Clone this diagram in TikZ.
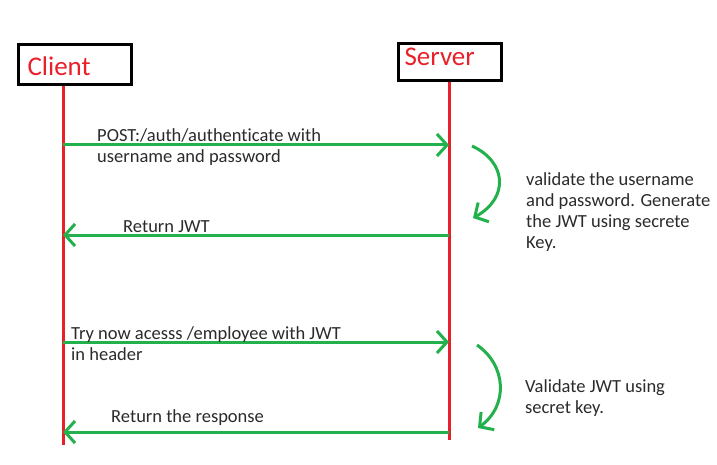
\documentclass[tikz,border=0pt]{standalone}
\usepackage{fontspec}
\setmainfont{Carlito}[Ligatures=NoCommon]
\usepackage{xcolor}
\usetikzlibrary{arrows.meta}
\definecolor{LifeRed}{HTML}{E8202A}
\definecolor{MsgGreen}{HTML}{22B14C}
\definecolor{Ink}{HTML}{2B2B2B}

\begin{document}
\begin{tikzpicture}[x=1pt,y=-1pt,
  actor/.style={draw=black,line width=3pt,inner ysep=0pt,align=left,font=\fontsize{27}{27}\selectfont,text=LifeRed},
  life/.style={draw=LifeRed,line width=3pt},
  msg/.style={draw=MsgGreen,line width=3pt,-{Straight Barb[length=10pt,width=22pt]}},
  txt/.style={font=\fontsize{18.5}{21.3}\selectfont,text=Ink,align=left,anchor=base west,inner sep=0pt}]
\useasboundingbox[fill=white] (0,0) rectangle (717,465);
% actors
\node[actor,inner xsep=9pt,text width=95pt,minimum height=40pt,text height=22pt,text depth=0pt] (client) at (75,65) {Client};
\node[actor,inner xsep=6pt,text width=91pt,minimum height=37pt,text height=7pt,text depth=0pt] (server) at (450,62.5) {Server};
% lifelines
\coordinate (clend) at (63,445);
\coordinate (svend) at (449,440);
\draw[life] (client.south -| clend) -- (clend);
\draw[life] (server.south -| svend) -- (svend);
% message ends on the lifelines
\foreach \y/\n in {145/1,235/2,342/3,432/4} {
  \coordinate (c\n) at (63,\y);
  \coordinate (s\n) at (449,\y);
}
\draw[msg] (c1) -- (s1);
\draw[msg] (s2) -- (c2);
\draw[msg] (c3) -- (s3);
\draw[msg] (s4) -- (c4);
% server side work
\coordinate (w1a) at (472,146);
\coordinate (w1b) at (473,218);
\coordinate (w2a) at (477,345);
\coordinate (w2b) at (478,428);
\draw[msg] (w1a) .. controls (507,162) and (509,198) .. (w1b);
\draw[msg] (w2a) .. controls (506,365) and (509,405) .. (w2b);
% labels (base = last line)
\node[txt] (m1) at (97,163) {POST:/auth/authenticate with\\username and password};
\node[txt] (m2) at (123,233) {Return JWT};
\node[txt] (m3) at (71,360.6) {Try now acesss /employee with JWT\\in header};
\node[txt] (m4) at (111,422.3) {Return the response};
\node[txt] (n1) at (526,248.9) {validate the username\\and password. Generate\\the JWT using secrete\\Key.};
\node[txt] (n2) at (525,413.6) {Validate JWT using\\secret key.};
\end{tikzpicture}
\end{document}
